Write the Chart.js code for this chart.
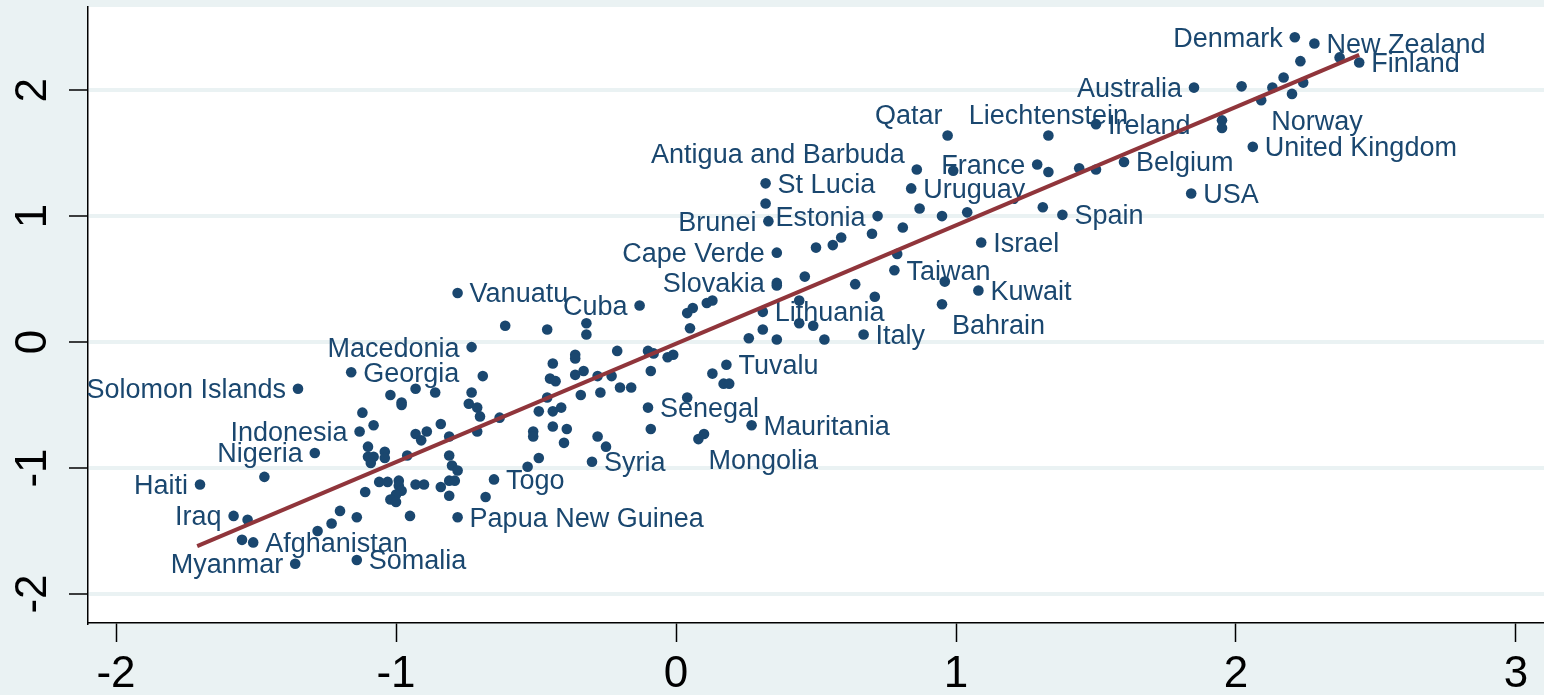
<!DOCTYPE html>
<html>
<head>
<meta charset="utf-8">
<script src="https://cdn.jsdelivr.net/npm/chart.js@4.4.1/dist/chart.umd.min.js"></script>
<style>
  html, body { margin: 0; padding: 0; background: #eaf2f3; }
  #wrap { width: 1544px; height: 695px; }
</style>
</head>
<body>
<div id="wrap"><canvas id="scatter" width="1544" height="695"></canvas></div>
<script>
// Labelled countries
var countries = ["Denmark", "New Zealand", "Finland", "Australia", "Norway", "United Kingdom", "USA",
  "Belgium", "Spain", "Ireland", "Liechtenstein", "Qatar", "France", "Uruguay", "Antigua and Barbuda",
  "St Lucia", "Brunei", "Estonia", "Cape Verde", "Slovakia", "Israel", "Taiwan", "Kuwait", "Bahrain",
  "Italy", "Lithuania", "Cuba", "Vanuatu", "Tuvalu", "Mauritania", "Mongolia", "Senegal", "Syria",
  "Togo", "Papua New Guinea", "Macedonia", "Georgia", "Solomon Islands", "Indonesia", "Nigeria",
  "Haiti", "Iraq", "Afghanistan", "Myanmar", "Somalia"];
var countryX = [2.21, 2.28, 2.44, 1.85, 2.09, 2.06, 1.84, 1.60, 1.38, 1.50, 1.33, 0.97, 1.29, 0.84, 0.86,
  0.32, 0.33, 0.72, 0.36, 0.36, 1.09, 0.78, 1.08, 0.95, 0.67, 0.31, -0.13, -0.78, 0.18, 0.27, 0.08,
  -0.10, -0.30, -0.65, -0.78, -0.73, -1.16, -1.35, -1.13, -1.29, -1.70, -1.58, -1.51, -1.36, -1.14];
var countryY = [2.42, 2.37, 2.22, 2.02, 1.92, 1.55, 1.18, 1.43, 1.01, 1.73, 1.64, 1.64, 1.41, 1.22, 1.37,
  1.26, 0.96, 1.00, 0.71, 0.47, 0.79, 0.57, 0.41, 0.30, 0.06, 0.24, 0.29, 0.39, -0.18, -0.66, -0.77,
  -0.52, -0.95, -1.09, -1.39, -0.04, -0.24, -0.37, -0.71, -0.88, -1.13, -1.38, -1.59, -1.76, -1.73];

// Unlabelled countries
var otherX = [2.23, 2.37, 2.17, 2.24, 2.13, 2.20, 2.02, 1.95, 1.95,
  1.33, 1.44, 1.50, 1.31,
  0.99, 0.87, 0.95, 1.04, 0.81, 0.70, 0.79, 0.96, 0.71,
  0.32, 0.59, 0.56, 0.50, 0.36, 0.46, 0.64,
  0.04, 0.06, 0.11, 0.13, 0.05, 0.44, 0.44, 0.49, 0.31, 0.26, 0.36, 0.53,
  -0.21, -0.10, -0.08, -0.03, -0.01, -0.09, -0.23, 0.13, 0.17, 0.19, 0.04, 0.10, -0.09,
  -0.44, -0.36, -0.36, -0.33, -0.36, -0.28, -0.45, -0.43, -0.20, -0.16, -0.34, -0.27, -0.46,
  -0.49, -0.44, -0.41, -0.51, -0.51, -0.44, -0.39, -0.40, -0.28, -0.25, -0.49, -0.53,
  -0.32, -0.32, -0.61, -0.46,
  -0.69, -0.73, -0.74, -0.71, -0.70, -0.63, -0.71, -0.84, -0.81, -0.81, -0.80, -0.78, -0.81,
  -0.79, -0.84, -0.81, -0.68,
  -1.02, -0.98, -0.98, -0.93, -0.86, -1.12, -1.08, -1.10, -1.10, -1.08, -1.09, -1.04, -1.04,
  -0.96, -0.93, -0.91, -0.89,
  -1.06, -1.03, -0.99, -0.99, -0.98, -1.00, -1.02, -1.00, -1.11, -0.93, -0.90, -0.95,
  -1.47, -1.53, -1.55, -1.28, -1.23, -1.20, -1.14];
var otherY = [2.23, 2.26, 2.10, 2.06, 2.02, 1.97, 2.03, 1.76, 1.70,
  1.35, 1.38, 1.37, 1.07,
  1.36, 1.06, 1.00, 1.03, 0.91, 0.86, 0.70, 0.48, 0.36,
  1.10, 0.83, 0.77, 0.75, 0.45, 0.52, 0.46,
  0.23, 0.27, 0.31, 0.33, 0.11, 0.33, 0.15, 0.13, 0.10, 0.03, 0.02, 0.02,
  -0.07, -0.07, -0.09, -0.12, -0.10, -0.23, -0.27, -0.25, -0.33, -0.33, -0.44, -0.73, -0.69,
  -0.17, -0.10, -0.13, -0.23, -0.26, -0.27, -0.29, -0.31, -0.36, -0.36, -0.42, -0.40, -0.44,
  -0.55, -0.55, -0.52, -0.71, -0.75, -0.67, -0.69, -0.80, -0.75, -0.83, -0.92, -0.99,
  0.15, 0.06, 0.13, 0.10,
  -0.27, -0.40, -0.49, -0.52, -0.59, -0.60, -0.71, -0.65, -0.75, -0.90, -0.98, -1.02, -1.10,
  -1.10, -1.15, -1.22, -1.23,
  -0.42, -0.48, -0.50, -0.37, -0.40, -0.56, -0.66, -0.83, -0.91, -0.91, -0.96, -0.87, -0.92,
  -0.90, -0.73, -0.78, -0.71,
  -1.11, -1.11, -1.10, -1.14, -1.18, -1.21, -1.25, -1.27, -1.19, -1.13, -1.13, -1.38,
  -1.07, -1.41, -1.57, -1.50, -1.44, -1.34, -1.39];

// Fitted line end points
var fitX = [-1.71, 2.44];
var fitY = [-1.62, 2.28];

// Tick labels
var xTicks = [-2, -1, 0, 1, 2, 3];
var yTicks = [-2, -1, 0, 1, 2];

// Where each country name sits around its dot (clock position)
var labelClock = {
  "Denmark": 9, "Australia": 9, "France": 9, "Brunei": 9, "Estonia": 9, "Cape Verde": 9,
  "Slovakia": 9, "Cuba": 9, "Macedonia": 9, "Solomon Islands": 9, "Indonesia": 9, "Nigeria": 9,
  "Haiti": 9, "Iraq": 9, "Myanmar": 9,
  "Liechtenstein": 12, "Qatar": 11, "Antigua and Barbuda": 10,
  "Norway": 4, "Bahrain": 4, "Mongolia": 4
};
var clockOffset = {
  3: [12, 2, "left"], 9: [-12, 2, "right"], 12: [0, -19, "center"],
  11: [-5, -19, "right"], 10: [-12, -14, "right"], 4: [10, 22, "left"]
};

var navy = "#1a476f";
var maroon = "#90353b";
var bluishGray = "#eaf2f3";
var fontFamily = '"Liberation Sans", Arial, sans-serif';

var points = [];
countries.forEach(function(name, i) {
  points.push({ x: countryX[i], y: countryY[i], name: name });
});
otherX.forEach(function(x, i) {
  points.push({ x: x, y: otherY[i], name: "" });
});

var fitLine = fitX.map(function(x, i) { return { x: x, y: fitY[i] }; });

// white plot region on the bluish gray background
var plotBackground = {
  id: "plotBackground",
  beforeDraw: function(chart) {
    var ctx = chart.ctx, a = chart.chartArea;
    ctx.save();
    ctx.fillStyle = bluishGray;
    ctx.fillRect(0, 0, chart.width, chart.height);
    ctx.fillStyle = "#ffffff";
    ctx.fillRect(a.left, a.top, a.right - a.left, a.bottom - a.top);
    ctx.restore();
  }
};

// country names next to the markers, drawn before the fit line
var markerLabels = {
  id: "markerLabels",
  afterDatasetDraw: function(chart, args) {
    if (args.index !== 0) return;
    var ctx = chart.ctx;
    var meta = chart.getDatasetMeta(0);
    ctx.save();
    ctx.font = "27px " + fontFamily;
    ctx.fillStyle = navy;
    ctx.textBaseline = "middle";
    meta.data.forEach(function(el, i) {
      var p = points[i];
      if (!p.name) return;
      var off = clockOffset[labelClock[p.name] || 3];
      ctx.textAlign = off[2];
      ctx.fillText(p.name, el.x + off[0], el.y + off[1]);
    });
    ctx.restore();
  }
};

// keep the plot region at fixed edges, no room kept for end labels
function noPadding(scale) {
  scale.paddingTop = 0;
  scale.paddingBottom = 0;
  scale.paddingLeft = 0;
  scale.paddingRight = 0;
}

var ctx = document.getElementById("scatter").getContext("2d");
var chart = new Chart(ctx, {
  type: "scatter",
  data: {
    datasets: [
      {
        label: "countries",
        data: points,
        backgroundColor: navy,
        borderColor: navy,
        pointRadius: 5.3,
        pointBorderWidth: 0,
        order: 2
      },
      {
        type: "line",
        label: "fit",
        data: fitLine,
        borderColor: maroon,
        borderWidth: 4,
        pointRadius: 0,
        fill: false,
        showLine: true,
        order: 1
      }
    ]
  },
  options: {
    responsive: false,
    animation: false,
    layout: { autoPadding: false, padding: { top: 7, left: 0, right: 0, bottom: 0 } },
    plugins: {
      legend: { display: false },
      tooltip: { enabled: false }
    },
    scales: {
      x: {
        type: "linear",
        position: "bottom",
        min: -2.1,
        max: 3.1,
        afterBuildTicks: function(scale) {
          scale.ticks = xTicks.map(function(v) { return { value: v }; });
        },
        afterFit: function(scale) { scale.height = 72; noPadding(scale); },
        grid: {
          drawOnChartArea: false,
          tickLength: 19,
          tickWidth: 1.5,
          tickColor: "#000"
        },
        border: { color: "#000", width: 1.5 },
        ticks: {
          autoSkip: false,
          color: "#000",
          padding: 6,
          maxRotation: 0,
          font: { family: fontFamily, size: 44 }
        }
      },
      y: {
        type: "linear",
        min: -2.23,
        max: 2.66,
        afterBuildTicks: function(scale) {
          scale.ticks = yTicks.map(function(v) { return { value: v }; });
        },
        afterFit: function(scale) { scale.width = 88; noPadding(scale); },
        grid: {
          color: bluishGray,
          lineWidth: 4,
          tickLength: 19,
          tickWidth: 1.5,
          tickColor: "#000"
        },
        border: { color: "#000", width: 1.5 },
        ticks: {
          autoSkip: false,
          color: "#000",
          padding: 16,
          minRotation: 90,
          maxRotation: 90,
          crossAlign: "center",
          font: { family: fontFamily, size: 44 }
        }
      }
    }
  },
  plugins: [plotBackground, markerLabels]
});
</script>
</body>
</html>
